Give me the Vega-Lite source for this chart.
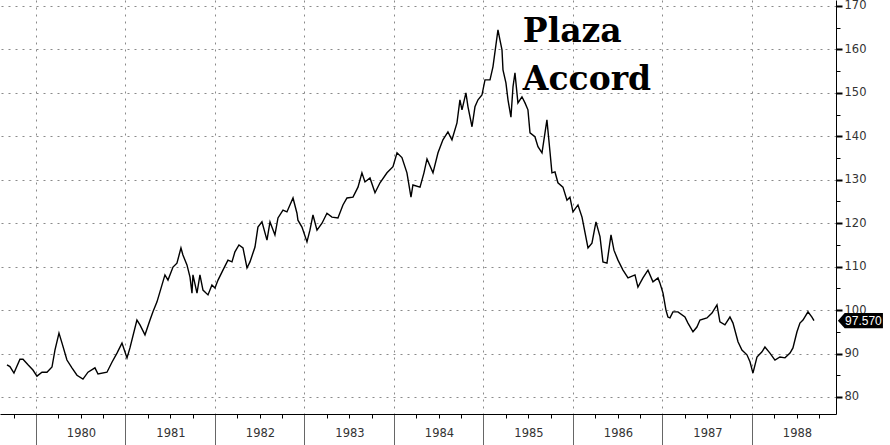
{
  "$schema": "https://vega.github.io/schema/vega-lite/v6.json",
  "width": 836,
  "height": 414,
  "padding": {"left": 0, "top": 0, "right": 54, "bottom": 31},
  "autosize": {"type": "none"},
  "background": "white",
  "config": {"view": {"stroke": null}},
  "datasets": {
    "dxy": [
      {"t":1979.676,"v":87.4},{"t":1979.709,"v":87.0},{"t":1979.754,"v":85.5},{"t":1979.821,"v":88.7},{"t":1979.855,"v":88.7},
      {"t":1979.911,"v":87.4},{"t":1979.966,"v":86.2},{"t":1980.011,"v":84.8},{"t":1980.067,"v":85.7},{"t":1980.123,"v":85.7},
      {"t":1980.179,"v":86.9},{"t":1980.212,"v":90.8},{"t":1980.257,"v":94.7},{"t":1980.291,"v":92.4},{"t":1980.346,"v":88.5},
      {"t":1980.402,"v":86.7},{"t":1980.458,"v":85.0},{"t":1980.525,"v":84.1},{"t":1980.581,"v":85.7},{"t":1980.659,"v":86.7},
      {"t":1980.693,"v":85.3},{"t":1980.793,"v":85.7},{"t":1980.849,"v":88.0},{"t":1980.905,"v":90.1},{"t":1980.961,"v":92.4},
      {"t":1981.017,"v":89.0},{"t":1981.050,"v":91.3},{"t":1981.128,"v":97.7},{"t":1981.162,"v":96.6},{"t":1981.218,"v":94.3},
      {"t":1981.274,"v":97.7},{"t":1981.307,"v":99.6},{"t":1981.352,"v":101.9},{"t":1981.385,"v":104.2},{"t":1981.441,"v":108.1},
      {"t":1981.475,"v":106.9},{"t":1981.531,"v":109.9},{"t":1981.575,"v":110.8},{"t":1981.620,"v":114.3},{"t":1981.642,"v":112.7},
      {"t":1981.687,"v":110.4},{"t":1981.721,"v":107.6},{"t":1981.743,"v":103.9},{"t":1981.754,"v":108.1},{"t":1981.799,"v":103.9},
      {"t":1981.832,"v":108.1},{"t":1981.866,"v":104.6},{"t":1981.922,"v":103.5},{"t":1981.966,"v":105.8},{"t":1982.000,"v":105.1},
      {"t":1982.034,"v":106.9},{"t":1982.089,"v":109.2},{"t":1982.145,"v":111.5},{"t":1982.190,"v":111.1},{"t":1982.223,"v":113.4},
      {"t":1982.268,"v":115.0},{"t":1982.313,"v":114.3},{"t":1982.358,"v":109.7},{"t":1982.391,"v":111.1},{"t":1982.447,"v":114.5},
      {"t":1982.480,"v":119.1},{"t":1982.525,"v":120.3},{"t":1982.581,"v":116.1},{"t":1982.615,"v":120.3},{"t":1982.670,"v":117.3},
      {"t":1982.704,"v":121.2},{"t":1982.760,"v":123.0},{"t":1982.804,"v":122.6},{"t":1982.872,"v":125.8},{"t":1982.916,"v":122.3},
      {"t":1982.927,"v":120.7},{"t":1982.972,"v":119.1},{"t":1983.028,"v":115.7},{"t":1983.061,"v":118.4},{"t":1983.095,"v":121.9},
      {"t":1983.140,"v":118.4},{"t":1983.196,"v":120.0},{"t":1983.251,"v":122.3},{"t":1983.307,"v":121.4},{"t":1983.374,"v":121.2},
      {"t":1983.430,"v":124.2},{"t":1983.475,"v":125.8},{"t":1983.542,"v":126.0},{"t":1983.598,"v":128.3},{"t":1983.642,"v":131.6},
      {"t":1983.676,"v":129.5},{"t":1983.732,"v":130.4},{"t":1983.788,"v":127.0},{"t":1983.844,"v":129.3},{"t":1983.922,"v":131.6},
      {"t":1983.989,"v":133.0},{"t":1984.034,"v":136.2},{"t":1984.089,"v":135.1},{"t":1984.145,"v":131.6},{"t":1984.190,"v":126.0},
      {"t":1984.212,"v":128.8},{"t":1984.291,"v":128.3},{"t":1984.335,"v":131.6},{"t":1984.369,"v":134.8},{"t":1984.436,"v":131.6},
      {"t":1984.492,"v":136.2},{"t":1984.547,"v":139.2},{"t":1984.603,"v":141.0},{"t":1984.648,"v":139.2},{"t":1984.704,"v":143.1},
      {"t":1984.737,"v":148.4},{"t":1984.760,"v":146.1},{"t":1984.804,"v":150.0},{"t":1984.827,"v":146.8},{"t":1984.872,"v":142.2},
      {"t":1984.905,"v":146.8},{"t":1984.939,"v":148.4},{"t":1984.983,"v":149.5},{"t":1985.017,"v":153.0},{"t":1985.073,"v":153.0},
      {"t":1985.106,"v":156.0},{"t":1985.162,"v":164.5},{"t":1985.184,"v":162.2},{"t":1985.207,"v":159.9},{"t":1985.218,"v":155.3},
      {"t":1985.251,"v":152.3},{"t":1985.274,"v":148.4},{"t":1985.307,"v":144.4},{"t":1985.330,"v":151.4},{"t":1985.352,"v":154.6},
      {"t":1985.385,"v":147.7},{"t":1985.430,"v":149.1},{"t":1985.464,"v":147.7},{"t":1985.497,"v":146.1},{"t":1985.520,"v":140.8},
      {"t":1985.575,"v":139.9},{"t":1985.609,"v":137.6},{"t":1985.654,"v":136.2},{"t":1985.709,"v":143.8},{"t":1985.743,"v":136.5},
      {"t":1985.765,"v":131.6},{"t":1985.799,"v":131.8},{"t":1985.832,"v":129.3},{"t":1985.888,"v":128.3},{"t":1985.933,"v":125.3},
      {"t":1985.966,"v":126.0},{"t":1986.000,"v":122.6},{"t":1986.056,"v":124.2},{"t":1986.101,"v":121.4},{"t":1986.168,"v":114.3},
      {"t":1986.212,"v":115.4},{"t":1986.257,"v":120.3},{"t":1986.302,"v":116.9},{"t":1986.335,"v":111.1},{"t":1986.380,"v":110.8},
      {"t":1986.425,"v":117.3},{"t":1986.458,"v":113.8},{"t":1986.503,"v":111.5},{"t":1986.559,"v":109.2},{"t":1986.615,"v":107.4},
      {"t":1986.693,"v":108.1},{"t":1986.726,"v":105.3},{"t":1986.782,"v":107.4},{"t":1986.838,"v":109.2},{"t":1986.894,"v":106.5},
      {"t":1986.950,"v":107.4},{"t":1986.972,"v":106.2},{"t":1987.006,"v":103.9},{"t":1987.039,"v":100.0},{"t":1987.061,"v":98.4},
      {"t":1987.084,"v":98.2},{"t":1987.117,"v":99.6},{"t":1987.173,"v":99.6},{"t":1987.251,"v":98.4},{"t":1987.285,"v":97.0},
      {"t":1987.341,"v":95.0},{"t":1987.385,"v":96.1},{"t":1987.419,"v":97.7},{"t":1987.497,"v":98.2},{"t":1987.553,"v":99.3},
      {"t":1987.609,"v":101.2},{"t":1987.642,"v":97.3},{"t":1987.698,"v":96.6},{"t":1987.754,"v":98.4},{"t":1987.788,"v":97.0},
      {"t":1987.844,"v":92.7},{"t":1987.888,"v":90.8},{"t":1987.944,"v":89.7},{"t":1987.978,"v":88.1},{"t":1988.011,"v":85.5},
      {"t":1988.056,"v":89.2},{"t":1988.112,"v":90.4},{"t":1988.145,"v":91.5},{"t":1988.201,"v":90.1},{"t":1988.257,"v":88.5},
      {"t":1988.313,"v":89.2},{"t":1988.369,"v":89.0},{"t":1988.425,"v":90.1},{"t":1988.458,"v":91.3},{"t":1988.503,"v":95.0},
      {"t":1988.536,"v":97.0},{"t":1988.570,"v":97.7},{"t":1988.626,"v":99.6},{"t":1988.670,"v":98.4},{"t":1988.693,"v":97.57}
    ],
    "notes": [
      {"t":1985.44,"v":161.7,"label":"Plaza"},
      {"t":1985.44,"v":150.6,"label":"Accord"}
    ],
    "tag": [
      {"t":1989.212,"tt":1989.245,"v":97.57,"label":"97.570"}
    ]
  },
  "resolve": {"axis": {"x": "independent", "y": "independent"}},
  "layer": [
    {
      "data": {"name": "dxy"},
      "mark": {"type": "line", "color": "black", "strokeWidth": 1.4, "clip": true},
      "encoding": {
        "x": {"field": "t", "type": "quantitative",
              "scale": {"domain": [1979.598, 1988.939], "nice": false, "zero": false},
              "axis": {"orient": "bottom", "title": null, "values": [1980,1981,1982,1983,1984,1985,1986,1987,1988],
                       "labelExpr": "datum.value", "labelOffset": 45, "labelPadding": -18, "labelBaseline": "top",
                       "labelFont": "DejaVu Sans", "labelFontSize": 11.5, "labelColor": "#333333",
                       "labelOverlap": false, "labelBound": false, "labelFlush": false,
                       "tickSize": 31, "tickColor": "#666666", "tickWidth": 1,
                       "domainColor": "black", "domainWidth": 1,
                       "grid": true, "gridColor": "#8a8a8a", "gridDash": [2, 5], "gridWidth": 1}},
        "y": {"field": "v", "type": "quantitative",
              "scale": {"domain": [76.08, 171.38], "nice": false, "zero": false},
              "axis": {"orient": "right", "title": null, "values": [80,90,100,110,120,130,140,150,160,170],
                       "labelFont": "DejaVu Sans", "labelFontSize": 11.5, "labelColor": "#333333", "labelPadding": 2,
                       "labelOverlap": false, "labelFlush": false,
                       "tickSize": 6, "tickColor": "black", "tickWidth": 2,
                       "domainColor": "black", "domainWidth": 1,
                       "grid": true, "gridColor": "#8a8a8a", "gridDash": [2, 5], "gridWidth": 1}}
      }
    },
    {
      "data": {"name": "notes"},
      "mark": {"type": "text", "align": "left", "baseline": "alphabetic", "font": "DejaVu Serif", "fontWeight": "bold", "fontSize": 33, "color": "black", "clip": false},
      "encoding": {
        "x": {"field": "t", "type": "quantitative",
              "axis": {"orient": "bottom", "title": null,
                       "values": [1979.75,1980.25,1980.5,1980.75,1981.25,1981.5,1981.75,1982.25,1982.5,1982.75,1983.25,1983.5,1983.75,1984.25,1984.5,1984.75,1985.25,1985.5,1985.75,1986.25,1986.5,1986.75,1987.25,1987.5,1987.75,1988.25,1988.5,1988.75],
                       "labels": false, "domain": false, "grid": false, "tickSize": 4, "tickColor": "black"}},
        "y": {"field": "v", "type": "quantitative",
              "axis": {"orient": "right", "title": null,
                       "values": [85,95,105,115,125,135,145,155,165],
                       "labels": false, "domain": false, "grid": false, "tickSize": 4, "tickColor": "black"}},
        "text": {"field": "label"}
      }
    },
    {
      "data": {"name": "tag"},
      "mark": {"type": "point", "filled": true, "color": "black", "opacity": 1, "clip": false,
               "shape": "M-1,0 L-0.7,-0.34 L1,-0.34 L1,0.34 L-0.7,0.34 Z", "size": 2025},
      "encoding": {
        "x": {"field": "t", "type": "quantitative", "axis": null},
        "y": {"field": "v", "type": "quantitative", "axis": null}
      }
    },
    {
      "data": {"name": "tag"},
      "mark": {"type": "text", "color": "white", "font": "Liberation Sans", "fontSize": 12, "align": "center", "baseline": "middle", "clip": false},
      "encoding": {
        "x": {"field": "tt", "type": "quantitative", "axis": null},
        "y": {"field": "v", "type": "quantitative", "axis": null},
        "text": {"field": "label"}
      }
    }
  ]
}
